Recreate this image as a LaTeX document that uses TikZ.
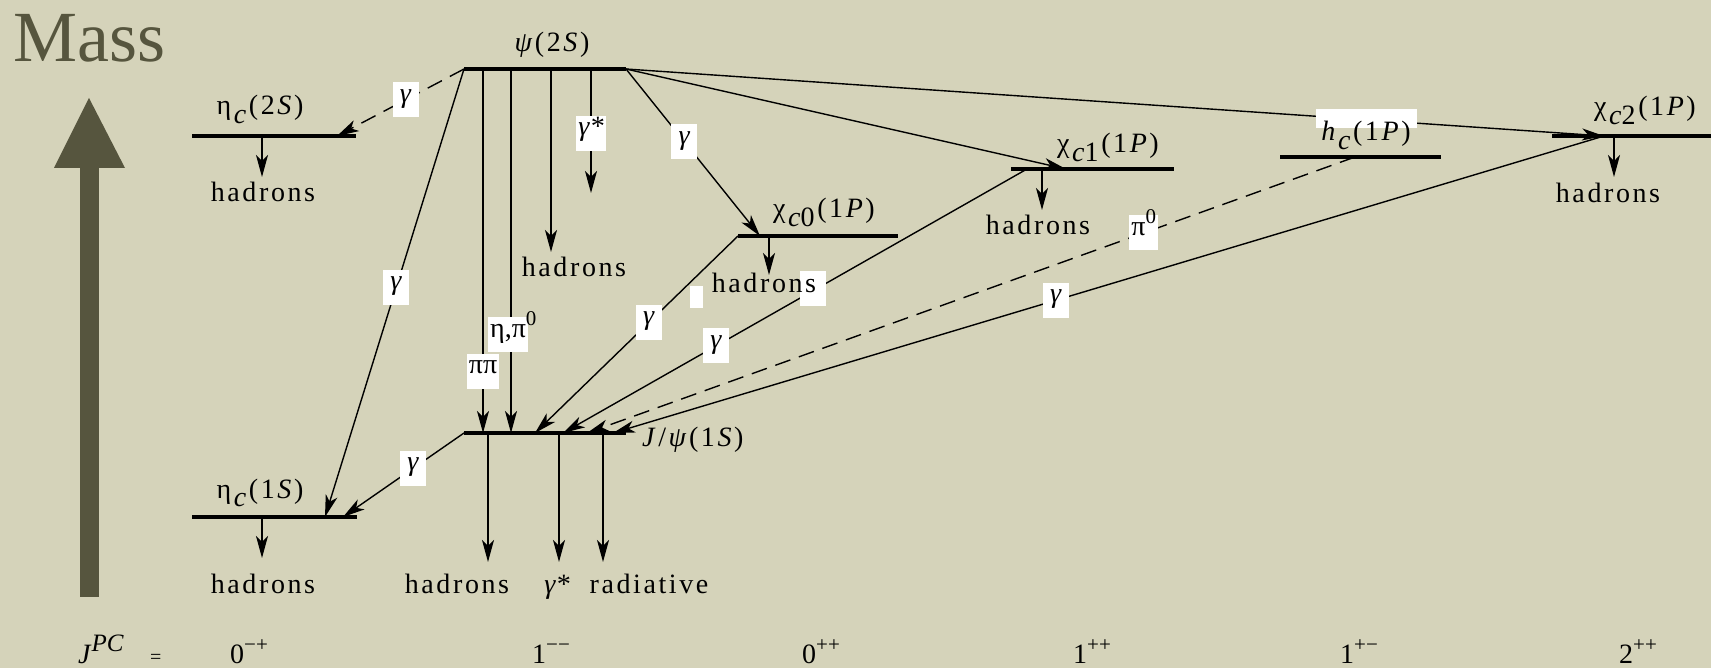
\documentclass[tikz,border=0pt]{standalone}
\usepackage{fontspec}
\setmainfont{Liberation Serif}
\usetikzlibrary{arrows.meta}
\definecolor{bgc}{RGB}{213,211,186}
\definecolor{massc}{RGB}{86,85,62}
\ExplSyntaxOn
\NewDocumentCommand\ls{m}{ \tl_map_inline:nn {#1} { ##1 \kern 2.6pt } \kern -2.6pt }
\ExplSyntaxOff
\newcommand{\dn}[1]{\raisebox{-0.3em}{#1}}
\newcommand{\sups}[1]{\raisebox{0.42em}{\fontsize{21}{22}\selectfont #1}}
\begin{document}
\begin{tikzpicture}[x=1pt,y=-1pt,
  every node/.style={font=\rmfamily\fontsize{28}{32}\selectfont, inner sep=0pt},
  levelline/.style={line width=4.5pt},
  conn/.style={line width=1.4pt, -{Stealth[length=22pt,width=12pt,inset=6pt]}},
  dconn/.style={conn, dash pattern=on 16pt off 9pt},
  lab/.style={fill=white, inner sep=2pt, text height=0.72em, text depth=0.24em, minimum width=26pt, minimum height=35pt},
  txt/.style={anchor=base},
  artifact/.style={fill=white}]
\useasboundingbox (0,0) rectangle (1711,668);
\fill[bgc] (0,0) rectangle (1711,668);
% Mass axis
\node[anchor=base west, font=\rmfamily\fontsize{72}{80}\selectfont, text=massc] (mass) at (13,62) {Mass};
\fill[massc] (80,167) rectangle (99,597);
\fill[massc] (54,168) -- (89,98) -- (125,168) -- cycle;
% level coordinates
\coordinate (eta2L) at (192,136); \coordinate (eta2R) at (356,136);
\coordinate (psi2L) at (464,69);  \coordinate (psi2R) at (626,69);
\coordinate (chi0L) at (738,236); \coordinate (chi0R) at (898,236);
\coordinate (chi1L) at (1011,169); \coordinate (chi1R) at (1174,169);
\coordinate (hcL) at (1280,157);  \coordinate (hcR) at (1441,157);
\coordinate (chi2L) at (1552,136); \coordinate (chi2R) at (1711,136);
\coordinate (jpsiL) at (464,433); \coordinate (jpsiR) at (626,433);
\coordinate (eta1L) at (192,517); \coordinate (eta1R) at (357,517);
% levels
\foreach \l in {eta2,psi2,chi0,chi1,hc,chi2,jpsi,eta1}
  \draw[levelline] (\l L) -- (\l R);
% points on levels
\coordinate (eta2T) at (337,136);
\coordinate (eta2H) at (262,136); \coordinate (eta2Hend) at (262,177);
\coordinate (psiA) at (483,69); \coordinate (jpsiA) at (483,433);
\coordinate (psiB) at (511,69); \coordinate (jpsiB) at (511,433);
\coordinate (psiC) at (551,69); \coordinate (psiCend) at (551,252);
\coordinate (psiD) at (591,69); \coordinate (psiDend) at (591,193);
\coordinate (chi0T) at (760,236);
\coordinate (chi0H) at (769,236); \coordinate (chi0Hend) at (769,275);
\coordinate (chi1T) at (1066,169); \coordinate (chi1S) at (1027,169);
\coordinate (chi1H) at (1042,169); \coordinate (chi1Hend) at (1042,210);
\coordinate (hcS) at (1355,157);
\coordinate (chi2T) at (1604,136);
\coordinate (chi2H) at (1614,136); \coordinate (chi2Hend) at (1614,177);
\coordinate (jpsiT0) at (535,433); \coordinate (jpsiT1) at (563,433);
\coordinate (jpsiT2) at (587,433); \coordinate (jpsiT3) at (613,433);
\coordinate (jpsiH1) at (488,433); \coordinate (jpsiH1end) at (488,562);
\coordinate (jpsiH2) at (559,433); \coordinate (jpsiH2end) at (559,562);
\coordinate (jpsiH3) at (603,433); \coordinate (jpsiH3end) at (603,562);
\coordinate (eta1T1) at (325,517); \coordinate (eta1T2) at (343,517);
\coordinate (eta1H) at (262,517); \coordinate (eta1Hend) at (262,558);
% connectors
\draw[dconn] (psi2L) -- node[lab,pos=0.46] (g1) {\textit{γ}} (eta2T);
\draw[conn] (psi2L) -- node[lab,pos=0.487] (g2) {\textit{γ}} (eta1T1);
\draw[conn] (psiA) -- node[lab,pos=0.83] (pp) {ππ} (jpsiA);
\draw[conn] (psiB) -- node[lab,pos=0.73,xshift=-3pt] (ep) {η,π\rlap{\sups{0}}} (jpsiB);
\draw[conn] (psiC) -- (psiCend);
\draw[conn] (psiD) -- node[lab,pos=0.52] (gs1) {\textit{γ*}} (psiDend);
\draw[conn] (psi2R) -- node[lab,pos=0.436] (g3) {\textit{γ}} (chi0T);
\draw[conn] (psi2R) -- (chi1T);
\draw[conn] (psi2R) -- (chi2T);
\draw[conn] (chi0L) -- node[lab,pos=0.439] (g4) {\textit{γ}} (jpsiT0);
\draw[conn] (chi1S) -- node[lab,pos=0.67] (g5) {\textit{γ}} (jpsiT1);
\draw[dconn] (hcS) -- node[lab,pos=0.275] (pi0) {π\sups{0}} (jpsiT2);
\draw[conn] (chi2T) -- node[lab,pos=0.553] (g6) {\textit{γ}} (jpsiT3);
\draw[conn] (jpsiL) -- node[lab,pos=0.42] (g7) {\textit{γ}} (eta1T2);
\draw[conn] (eta2H) -- (eta2Hend);
\draw[conn] (chi0H) -- (chi0Hend);
\draw[conn] (chi1H) -- (chi1Hend);
\draw[conn] (chi2H) -- (chi2Hend);
\draw[conn] (eta1H) -- (eta1Hend);
\draw[conn] (jpsiH1) -- (jpsiH1end);
\draw[conn] (jpsiH2) -- (jpsiH2end);
\draw[conn] (jpsiH3) -- (jpsiH3end);
% white patches
\fill[artifact] (690,286) rectangle (703,308);
\fill[artifact] (800,271) rectangle (826,306);
\fill[artifact] (1316,109) rectangle (1417,128);
% level labels
\node[txt] (leta2) at (260,115) {\ls{η{\dn{\textit{c}}}(2{\textit{S}})}};
\node[txt] (lpsi2) at (552,52) {\ls{{\textit{ψ}}(2{\textit{S}})}};
\node[txt] (lchi0) at (824,218) {\ls{χ{\dn{\textit{c}0}}(1{\textit{P}})}};
\node[txt] (lchi1) at (1108,153) {\ls{χ{\dn{\textit{c}1}}(1{\textit{P}})}};
\node[txt] (lhc) at (1366,141) {\ls{{\textit{h}}{\dn{\textit{c}}}(1{\textit{P}})}};
\node[txt] (lchi2) at (1645,116) {\ls{χ{\dn{\textit{c}2}}(1{\textit{P}})}};
\node[anchor=base west] (ljpsi) at (642,446) {\ls{{\textit{J}}/{\textit{ψ}}(1{\textit{S}})}};
\node[txt] (leta1) at (260,498) {\ls{η{\dn{\textit{c}}}(1{\textit{S}})}};
% decay products
\node[txt] (heta2) at (263,202) {\ls{hadrons}};
\node[txt] (hpsi2) at (574,277) {\ls{hadrons}};
\node[txt] (hchi0) at (764,293) {\ls{hadrons}};
\node[txt] (hchi1) at (1038,235) {\ls{hadrons}};
\node[txt] (hchi2) at (1608,203) {\ls{hadrons}};
\node[txt] (heta1) at (263,593) {\ls{hadrons}};
\node[txt] (hjpsi) at (457,593) {\ls{hadrons}};
\node[txt] (gsjpsi) at (557,593) {\textit{γ*}};
\node[txt] (rad) at (649,593) {\ls{radiative}};
% quantum numbers
\node[anchor=base west] (jpc) at (78,663) {\textit{J}\raisebox{0.42em}{\fontsize{25}{26}\selectfont\textit{PC}}};
\node[anchor=base west, font=\rmfamily\fontsize{20}{22}\selectfont] (eq) at (150,663) {=};
\node[anchor=base west] (q1) at (230,663) {0\sups{−+}};
\node[anchor=base west] (q2) at (532,663) {1\sups{−−}};
\node[anchor=base west] (q3) at (802,663) {0\sups{++}};
\node[anchor=base west] (q4) at (1073,663) {1\sups{++}};
\node[anchor=base west] (q5) at (1340,663) {1\sups{+−}};
\node[anchor=base west] (q6) at (1619,663) {2\sups{++}};
\end{tikzpicture}
\end{document}
